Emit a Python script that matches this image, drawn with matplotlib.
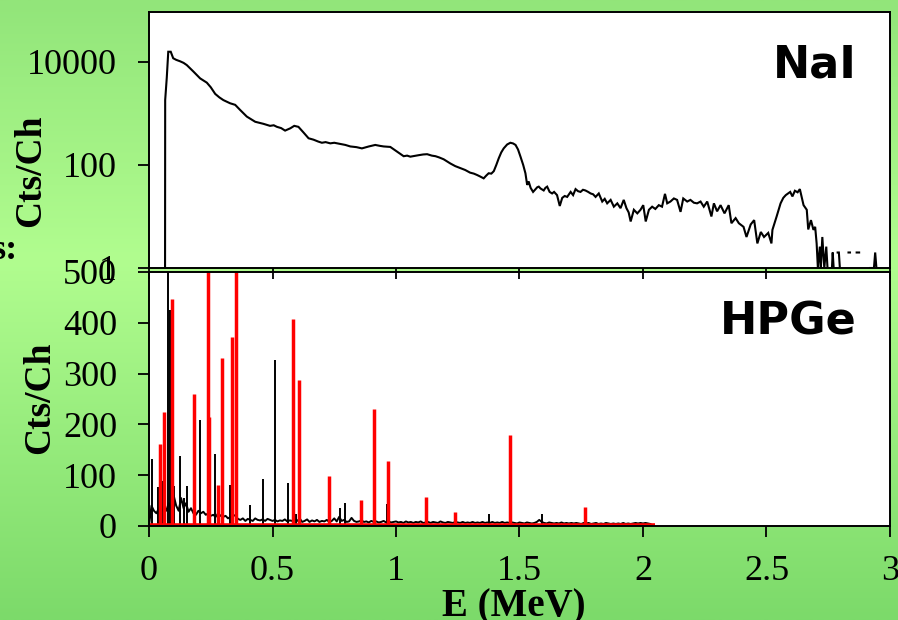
import numpy as np
import matplotlib
matplotlib.use("Agg")
import matplotlib.pyplot as plt
from matplotlib.colors import LinearSegmentedColormap

# ---------------- NaI spectrum (counts per channel, log scale) ----------------
nai_energy = [
    0.065, 0.0655, 0.072, 0.078, 0.088, 0.098, 0.11, 0.126, 0.14, 0.153, 0.18, 0.207,
    0.234, 0.25, 0.268, 0.285, 0.301, 0.328, 0.349, 0.369, 0.396, 0.43, 0.463, 0.49,
    0.505, 0.518, 0.535, 0.551, 0.572, 0.588, 0.605, 0.626, 0.646, 0.666, 0.685, 0.70,
    0.715, 0.734, 0.75, 0.774, 0.795, 0.815, 0.84, 0.862, 0.89, 0.916, 0.935, 0.95,
    0.977, 1.004, 1.031, 1.045, 1.058, 1.075, 1.092, 1.11, 1.126, 1.145, 1.16, 1.175,
    1.193, 1.21, 1.22, 1.24, 1.26, 1.28, 1.30, 1.315, 1.328, 1.34, 1.355, 1.365,
    1.375, 1.386, 1.396, 1.406, 1.416, 1.426, 1.436, 1.45, 1.463, 1.474, 1.484, 1.494,
    1.504, 1.515, 1.524, 1.531, 1.537, 1.545, 1.555, 1.565, 1.572, 1.578, 1.585, 1.598,
    1.605, 1.612, 1.622, 1.632, 1.64, 1.652, 1.663, 1.673, 1.683, 1.693, 1.707, 1.717,
    1.727, 1.737, 1.747, 1.757, 1.767, 1.778, 1.788, 1.798, 1.808, 1.821, 1.835, 1.845,
    1.855, 1.869, 1.882, 1.896, 1.909, 1.922, 1.933, 1.942, 1.950, 1.963, 1.977, 1.990,
    2.001, 2.011, 2.024, 2.037, 2.05, 2.064, 2.077, 2.089, 2.098, 2.111, 2.125, 2.138,
    2.152, 2.163, 2.179, 2.192, 2.206, 2.219, 2.233, 2.246, 2.260, 2.277, 2.287, 2.300,
    2.314, 2.330, 2.347, 2.358, 2.375, 2.388, 2.407, 2.419, 2.436, 2.450, 2.463, 2.477,
    2.490, 2.507, 2.520, 2.524, 2.541, 2.557, 2.568, 2.578, 2.596, 2.605, 2.615, 2.626,
    2.635, 2.650, 2.663, 2.669, 2.68, 2.69, 2.697, 2.703, 2.708, 2.716, 2.72, 2.726,
    2.734, 2.742, 2.747, 2.755, 2.765, 2.768, 2.772, 2.78, 2.788, 2.793, 2.797, 2.81,
    2.832, 2.838, 2.845, 2.865, 2.875, 2.88, 2.92, 2.935, 2.94, 2.945, 2.95,
]
nai_counts = [
    1, 1820, 5000, 15800, 15800, 11800, 11000, 10300, 9600, 8700, 6500, 4800,
    3970, 3230, 2400, 2050, 1820, 1580, 1470, 1170, 870, 690, 630, 575,
    590, 550, 520, 465, 515, 575, 550, 425, 330, 310, 285, 270,
    278, 263, 270, 257, 245, 229, 222, 210, 229, 245, 235, 229,
    224, 182, 148, 152, 145, 150, 155, 160, 162, 152, 148, 140,
    129, 115, 107, 95, 87, 80, 71, 68, 64, 60, 55, 62,
    69, 68, 76, 100, 135, 175, 210, 250, 270, 262, 245, 200,
    145, 100, 69, 41, 48, 36, 30, 34, 37, 38, 35, 32,
    36, 38, 30, 28, 30, 26, 16, 23, 25, 24, 30, 26,
    34, 31, 30, 33, 32, 30, 28, 27, 24, 28, 19.5, 22,
    18, 21, 15.5, 18, 14.5, 21, 14.5, 12, 8, 13.5, 11.5, 13.5,
    16.6, 8, 13.5, 15.5, 14, 16.6, 15.5, 27.5, 18, 19.5, 22.4, 21,
    12.3, 22.4, 19.5, 21, 18.5, 18, 19.5, 15.5, 19.5, 10, 18, 12.6,
    16.6, 11.5, 16.6, 7.4, 9.3, 7.4, 6.3, 4, 7, 8.5, 3, 5,
    4, 4.8, 3, 5.5, 10, 18, 23, 26, 30, 24.5, 31.6, 29.5,
    34, 16.6, 13.5, 5.6, 8.5, 5.5, 6.3, 3, 1, 2.6, 1, 4,
    1, 2.6, 1, 0, 1, 2, 1, 0, 2, 2, 1, 0,
    2, 2, 0, 2, 2, 0, 1, 1, 2, 1, 0,
]

# ---------------- HPGe spectra (counts per channel, linear scale) ----------------
hpge_channel_width = 0.01
hpge_black_continuum = [
    0, 40, 30, 25, 35, 28, 40, 30, 45, 35, 60, 40, 30, 55, 35, 45, 28, 35, 25, 22,
    30, 25, 28, 22, 25, 20, 22, 18, 25, 20, 18, 20, 15, 18, 22, 20, 14, 12, 15, 10,
    14, 12, 10, 15, 12, 11, 13, 10, 14, 12, 10, 12, 9, 11, 10, 13, 9, 11, 10, 12,
    10, 15, 8, 10, 13, 8, 11, 9, 12, 8, 10, 9, 12, 8, 10, 15, 9, 18, 10, 12,
    8, 9, 16, 10, 8, 9, 11, 8, 9, 7, 10, 8, 9, 7, 8, 10, 7, 9, 7, 8,
    9, 7, 8, 6, 9, 7, 8, 6, 8, 7, 9, 6, 7, 8, 6, 8, 7, 6, 9, 7,
    6, 8, 7, 6, 8, 7, 6, 8, 6, 7, 6, 8, 6, 7, 6, 8, 6, 7, 6, 8,
    6, 7, 6, 8, 6, 7, 6, 7, 6, 5, 7, 6, 5, 7, 6, 5, 6, 8, 12, 8,
    6, 5, 7, 6, 5, 6, 5, 7, 5, 6, 5, 6, 5, 6, 5, 4, 6, 5, 6, 4,
    5, 6, 4, 5, 4, 6, 5, 4, 5, 4, 5, 4, 6, 4, 5, 4, 5, 6, 5, 6,
    5, 6, 5, 4, 0,
]
hpge_black_peak_energy = [
    0.013, 0.035, 0.055, 0.066, 0.076, 0.083, 0.103, 0.127, 0.142, 0.153, 0.207,
    0.268, 0.301, 0.327, 0.409, 0.461, 0.509, 0.562, 0.596, 0.772, 0.795, 0.963,
    1.378, 1.592,
]
hpge_black_peak_counts = [
    131, 77, 88, 114, 560, 426, 78, 138, 55, 79, 208,
    142, 108, 80, 42, 93, 327, 84, 24, 35, 45, 43,
    24, 23,
]
hpge_red_peak_energy = [
    0.045, 0.061, 0.092, 0.184, 0.238, 0.242, 0.278, 0.295, 0.338, 0.352,
    0.583, 0.609, 0.727, 0.860, 0.911, 0.969, 1.120, 1.238, 1.461, 1.764,
]
hpge_red_peak_counts = [
    161, 224, 446, 260, 560, 214, 80, 331, 372, 560,
    408, 287, 99, 51, 231, 127, 57, 28, 179, 38,
]
hpge_red_floor = 2
hpge_red_span = [0.0, 2.05]

x_ticks = [0, 0.5, 1, 1.5, 2, 2.5, 3]
x_tick_labels = ["0", "0.5", "1", "1.5", "2", "2.5", "3"]
nai_y_ticks = [1, 100, 10000]
hpge_y_ticks = [0, 100, 200, 300, 400, 500]

SERIF = ["Liberation Serif", "DejaVu Serif"]
SANS = ["DejaVu Sans"]

fig = plt.figure(figsize=(8.98, 6.2), dpi=100)

# slide-style green vertical gradient behind everything
bg = fig.add_axes([0, 0, 1, 1], zorder=-10)
bg.axis("off")
cmap = LinearSegmentedColormap.from_list(
    "slide",
    [(0.0, (146 / 255, 229 / 255, 122 / 255)),
     (0.42, (177 / 255, 253 / 255, 143 / 255)),
     (1.0, (124 / 255, 218 / 255, 106 / 255))],
)
grad = np.linspace(0, 1, 256).reshape(-1, 1)
bg.imshow(grad, aspect="auto", cmap=cmap, extent=[0, 1, 0, 1], origin="upper")
bg.set_xlim(0, 1)
bg.set_ylim(0, 1)

W, H = 898.0, 620.0
left = 149 / W
width = 741 / W
ax_top = fig.add_axes([left, 1 - 268 / H, width, 256 / H])
ax_bot = fig.add_axes([left, 1 - 526 / H, width, 254 / H])
ax_top.set_zorder(3)
ax_bot.set_zorder(2)

tick_len = 8.0
for ax in (ax_top, ax_bot):
    ax.set_facecolor("white")
    for sp in ax.spines.values():
        sp.set_linewidth(1.4)
        sp.set_color("black")
    ax.set_xlim(0, 3)
    ax.set_xticks(x_ticks)
    ax.tick_params(axis="both", direction="out", length=tick_len, width=1.3,
                   colors="black", top=False, right=False)
    ax.tick_params(axis="y", pad=15)
    ax.tick_params(axis="x", pad=13)
    ax.minorticks_off()

# ---- NaI panel ----
ax_top.set_yscale("log", nonpositive="mask")
ax_top.plot(nai_energy, nai_counts, color="black", lw=1.5, solid_joinstyle="miter")
ax_top.set_ylim(1, 10 ** 4.97)
ax_top.set_yticks(nai_y_ticks)
ax_top.set_yticklabels(["1", "100", "10000"])
ax_top.yaxis.set_minor_locator(matplotlib.ticker.NullLocator())
ax_top.set_xticklabels([])
ax_top.text(0.955, 0.746, "NaI", transform=ax_top.transAxes, ha="right",
            va="baseline", fontsize=32, fontweight="bold", family=SANS)

# ---- HPGe panel ----
hpge_energy = np.arange(len(hpge_black_continuum)) * hpge_channel_width
ax_bot.plot(hpge_energy, hpge_black_continuum, color="black", lw=1.4)
ax_bot.vlines(hpge_black_peak_energy, 0, hpge_black_peak_counts, color="black", lw=1.4)
ax_bot.plot(hpge_red_span, [hpge_red_floor, hpge_red_floor], color="red", lw=2.6,
            solid_capstyle="butt")
ax_bot.vlines(hpge_red_peak_energy, 0, hpge_red_peak_counts, color="red", lw=2.5)
ax_bot.set_ylim(0, 500)
ax_bot.set_yticks(hpge_y_ticks)
ax_bot.set_xticklabels(x_tick_labels)
ax_bot.text(0.955, 0.752, "HPGe", transform=ax_bot.transAxes, ha="right",
            va="baseline", fontsize=32, fontweight="bold", family=SANS)

for ax in (ax_top, ax_bot):
    for lab in ax.get_xticklabels() + ax.get_yticklabels():
        lab.set_fontfamily(SERIF)
        lab.set_fontsize(26)

# axis titles
fig.text(31 / W, 1 - 171 / H, "Cts/Ch", rotation=90, ha="center", va="center",
         fontsize=27, fontweight="bold", family=SERIF)
fig.text(40 / W, 1 - 398 / H, "Cts/Ch", rotation=90, ha="center", va="center",
         fontsize=27, fontweight="bold", family=SERIF)
fig.text(514 / W, 1 - 616 / H, "E (MeV)", ha="center", va="baseline",
         fontsize=28, fontweight="bold", family=SERIF)
fig.text(18 / W, 1 - 259 / H, "s:", ha="right", va="baseline",
         fontsize=26, fontweight="bold", family=SERIF)

fig.savefig("out.png", dpi=100)
